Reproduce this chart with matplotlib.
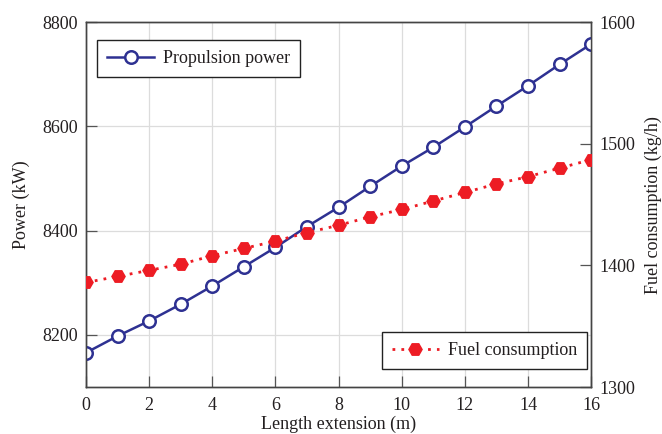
import matplotlib.pyplot as plt

plt.rcParams['font.family'] = ['Liberation Serif', 'DejaVu Serif']

# length extension of the hull (m)
length_ext = [0, 1, 2, 3, 4, 5, 6, 7, 8, 9, 10, 11, 12, 13, 14, 15, 16]
# propulsion power (kW)
power = [8166, 8198, 8227, 8259, 8294, 8331, 8368, 8408, 8445,
         8485, 8524, 8560, 8599, 8639, 8678, 8719, 8758]
# fuel consumption (kg/h)
fuel = [1386, 1391, 1396, 1401, 1408, 1414, 1420, 1427, 1433,
        1440, 1446, 1453, 1460, 1467, 1473, 1480, 1487]

x_ticks = [0, 2, 4, 6, 8, 10, 12, 14, 16]
power_ticks = [8200, 8400, 8600, 8800]
fuel_ticks = [1300, 1400, 1500, 1600]

blue = '#2e3192'
red = '#ed1c24'
txt = '#231f20'

fig = plt.figure(figsize=(6.62, 4.34), dpi=100)
ax1 = fig.add_axes([0.130, 0.108, 0.763, 0.841])
ax2 = ax1.twinx()

l1, = ax1.plot(length_ext, power, color=blue, lw=1.8, marker='o', ms=9,
               mfc='white', mec=blue, mew=1.8, label='Propulsion power', zorder=3)
l2, = ax2.plot(length_ext, fuel, color=red, lw=2.0, ls=(0, (1, 2.2)), marker='H',
               ms=9.5, mfc=red, mec=red, label='Fuel consumption', zorder=3)

ax1.set_xlim(0, 16)
ax1.set_ylim(8100, 8800)
ax2.set_ylim(1300, 1600)
ax1.set_xticks(x_ticks)
ax1.set_yticks(power_ticks)
ax2.set_yticks(fuel_ticks)

ax1.grid(True, color='#dcdcdc', lw=0.9)
ax1.set_axisbelow(True)

for ax in (ax1, ax2):
    ax.tick_params(direction='in', length=8, width=0.9, labelsize=13,
                   labelcolor=txt, color='#555555', pad=6)
    for s in ax.spines.values():
        s.set_color('#444444')
        s.set_linewidth(1.0)
ax1.tick_params(axis='y', right=False)
ax1.tick_params(axis='x', top=False, pad=7)

ax1.set_xlabel('Length extension (m)', fontsize=13, color=txt, labelpad=1)
ax1.set_ylabel('Power (kW)', fontsize=13, color=txt, labelpad=9)
ax2.set_ylabel('Fuel consumption (kg/h)', fontsize=13, color=txt, labelpad=7)

leg_kw = dict(fontsize=13, frameon=True, fancybox=False, edgecolor='#222222',
              framealpha=1, handlelength=2.6, borderaxespad=0, borderpad=0.55,
              handletextpad=0.5)
lg1 = ax1.legend(handles=[l1], loc='upper left', bbox_to_anchor=(0.022, 0.951), **leg_kw)
lg1.get_frame().set_linewidth(1.0)
lg2 = ax2.legend(handles=[l2], loc='lower right', bbox_to_anchor=(0.992, 0.049), **leg_kw)
lg2.get_frame().set_linewidth(1.0)
for lg in (lg1, lg2):
    for t in lg.get_texts():
        t.set_color(txt)

fig.savefig('out.png', dpi=100)
